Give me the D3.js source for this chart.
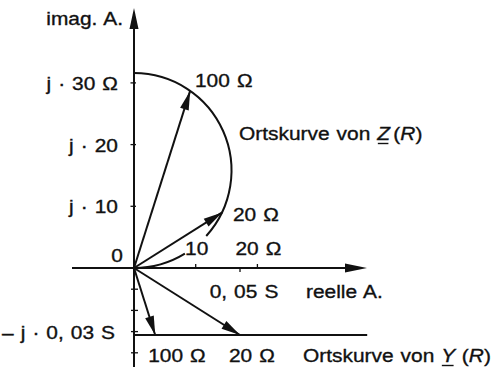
<!DOCTYPE html>
<html>
<head>
<meta charset="utf-8">
<script src="https://cdn.jsdelivr.net/npm/d3@7"></script>
<style>
  html, body { margin: 0; padding: 0; background: #fff; }
  svg text { font-family: "Liberation Sans", Arial, Helvetica, sans-serif; font-size: 19px;
             fill: #111; stroke: #111; stroke-width: 0.35px; white-space: pre; word-spacing: 1.1px; }
</style>
</head>
<body>
<svg id="chart" width="495" height="369"></svg>
<script>
// Parallel R-L circuit: impedance locus Z(R) and admittance locus Y(R)
const XL = 31.6;                       // reactance in ohm (circle diameter)
const BL = 0.0316;                     // susceptance 1/XL in siemens

const zVectorR   = ["100 Ω", "20 Ω"];  // resistor values for the impedance pointers
const zVectorRe  = [9.1, 14.3];        // real part, ohm
const zVectorIm  = [28.7, 9.0];        // imaginary part, ohm

const yVectorR   = ["100 Ω", "20 Ω"];
const yVectorRe  = [0.01, 0.05];       // conductance, S
const yVectorIm  = [-0.0316, -0.0316]; // susceptance, S

const zImTicks   = [10, 20, 30];
const zImLabels  = ["j · 10", "j · 20", "j · 30 Ω"];
const zReTicks   = [10, 20];
const zReLabels  = ["10", "20 Ω"];
const yReTicks   = [0.05];
const yReLabels  = ["0, 05 S"];
const yImTicks   = [-0.01, -0.02, -0.03, -0.04];

const svg = d3.select("#chart");
const ox = 134, oy = 268;
const SX = 1.1;                        // horizontal stretch of the lettering

// impedance scales (ohm) and admittance scales (siemens) share the origin
const xZ = d3.scaleLinear().domain([0, 10]).range([ox, ox + 61.7]);
const yZ = d3.scaleLinear().domain([0, 10]).range([oy, oy - 61.7]);
const xY = d3.scaleLinear().domain([0, 0.05]).range([ox, ox + 106]);
const yY = d3.scaleLinear().domain([0, -0.01]).range([oy, oy + 21.2]);

const stroke = "#111";

function label(x, y, txt, anchor = "start") {
  const g = svg.append("g").attr("transform", `translate(${x},${y}) scale(${SX},1)`);
  return g.append("text").attr("text-anchor", anchor).text(txt);
}

function arrowHead(x1, y1, x2, y2, len = 19, half = 4.5) {
  const a = Math.atan2(y2 - y1, x2 - x1);
  const bx = x2 - len * Math.cos(a), by = y2 - len * Math.sin(a);
  const nx = -Math.sin(a) * half, ny = Math.cos(a) * half;
  svg.append("path")
    .attr("d", `M${x2},${y2}L${bx + nx},${by + ny}L${bx - nx},${by - ny}Z`)
    .attr("fill", stroke);
}

function vector(x2, y2) {
  svg.append("line")
    .attr("x1", ox).attr("y1", oy).attr("x2", x2).attr("y2", y2)
    .attr("stroke", stroke).attr("stroke-width", 2);
  arrowHead(ox, oy, x2, y2);
}

// axes
svg.append("line").attr("x1", 72).attr("y1", oy).attr("x2", 350).attr("y2", oy)
  .attr("stroke", stroke).attr("stroke-width", 2);
arrowHead(72, oy, 367, oy, 22, 4.5);
svg.append("line").attr("x1", ox).attr("y1", 367).attr("x2", ox).attr("y2", 25)
  .attr("stroke", stroke).attr("stroke-width", 2);
arrowHead(ox, 367, ox, 8, 21, 4.5);

// ticks
zImTicks.forEach(v => svg.append("line")
  .attr("x1", ox - 3.5).attr("x2", ox + 2).attr("y1", yZ(v)).attr("y2", yZ(v))
  .attr("stroke", stroke).attr("stroke-width", 1.3));
yImTicks.forEach(v => svg.append("line")
  .attr("x1", ox - 3).attr("x2", ox + 4).attr("y1", yY(v)).attr("y2", yY(v))
  .attr("stroke", stroke).attr("stroke-width", 1.3));
zReTicks.forEach(v => svg.append("line")
  .attr("x1", xZ(v)).attr("x2", xZ(v)).attr("y1", oy - 4).attr("y2", oy)
  .attr("stroke", stroke).attr("stroke-width", 1.3));
yReTicks.forEach(v => svg.append("line")
  .attr("x1", xY(v)).attr("x2", xY(v)).attr("y1", oy).attr("y2", oy + 4)
  .attr("stroke", stroke).attr("stroke-width", 1.3));

// tick labels
zImTicks.forEach((v, i) => label(118, yZ(v) + 7, zImLabels[i], "end"));
label(123, 262, "0", "end");
label(115, yY(-0.03) + 7, "– j · 0, 03 S", "end");
zReTicks.forEach((v, i) => label(xZ(v) + 1, 255, zReLabels[i], "middle"));
yReTicks.forEach((v, i) => label(xY(v) + 4, 298, yReLabels[i], "middle"));

// axis titles
label(123, 25, "imag. A.", "end");
label(306, 298, "reelle A.");

// impedance locus: semicircle with diameter XL on the imaginary axis,
// interrupted around the "10" label
const cx = xZ(0), cy = yZ(XL / 2), r = xZ(XL / 2) - xZ(0);
const ang = (re, im) => Math.atan2(yZ(im) - cy, xZ(re) - cx);
const upper = d3.path();
upper.arc(cx, cy, r, -Math.PI / 2, ang(11.7, 5.2));
svg.append("path").attr("d", upper.toString()).attr("fill", "none")
  .attr("stroke", stroke).attr("stroke-width", 2);
const lower = d3.path();
lower.arc(cx, cy, r, ang(8.2, 2.4), Math.PI / 2);
svg.append("path").attr("d", lower.toString()).attr("fill", "none")
  .attr("stroke", stroke).attr("stroke-width", 2);

// admittance locus: horizontal line at -BL
svg.append("line").attr("x1", ox).attr("x2", xY(0.11))
  .attr("y1", yY(-BL)).attr("y2", yY(-BL))
  .attr("stroke", stroke).attr("stroke-width", 2);

// pointers
zVectorRe.forEach((re, i) => vector(xZ(re), yZ(zVectorIm[i])));
yVectorRe.forEach((re, i) => vector(xY(re), yY(yVectorIm[i])));

// pointer labels
label(195, 87, zVectorR[0]);
label(233, 221, zVectorR[1]);
yVectorRe.forEach((re, i) => label(xY(re) - (i === 0 ? 7 : 11), 362, yVectorR[i]));

// locus captions with underlined phasor symbol
function caption(x, y, sym, gapAfterSym) {
  const g = svg.append("g").attr("transform", `translate(${x},${y}) scale(${SX},1)`);
  const t1 = g.append("text").text("Ortskurve von\u00a0");
  const w1 = t1.node().getComputedTextLength();
  const t2 = g.append("text").attr("x", w1)
    .style("font-style", "italic").text(sym);
  const w2 = t2.node().getComputedTextLength();
  g.append("line").attr("x1", w1 + 0.5).attr("x2", w1 + w2 - 1.5)
    .attr("y1", 3.5).attr("y2", 3.5).attr("stroke", stroke).attr("stroke-width", 1.4);
  const t3 = g.append("text").attr("x", w1 + w2 + gapAfterSym);
  t3.append("tspan").text("(");
  t3.append("tspan").style("font-style", "italic").text("R");
  t3.append("tspan").text(")");
}
caption(239, 140, "Z", 3);
caption(303, 362, "Y", 6);
</script>
</body>
</html>
